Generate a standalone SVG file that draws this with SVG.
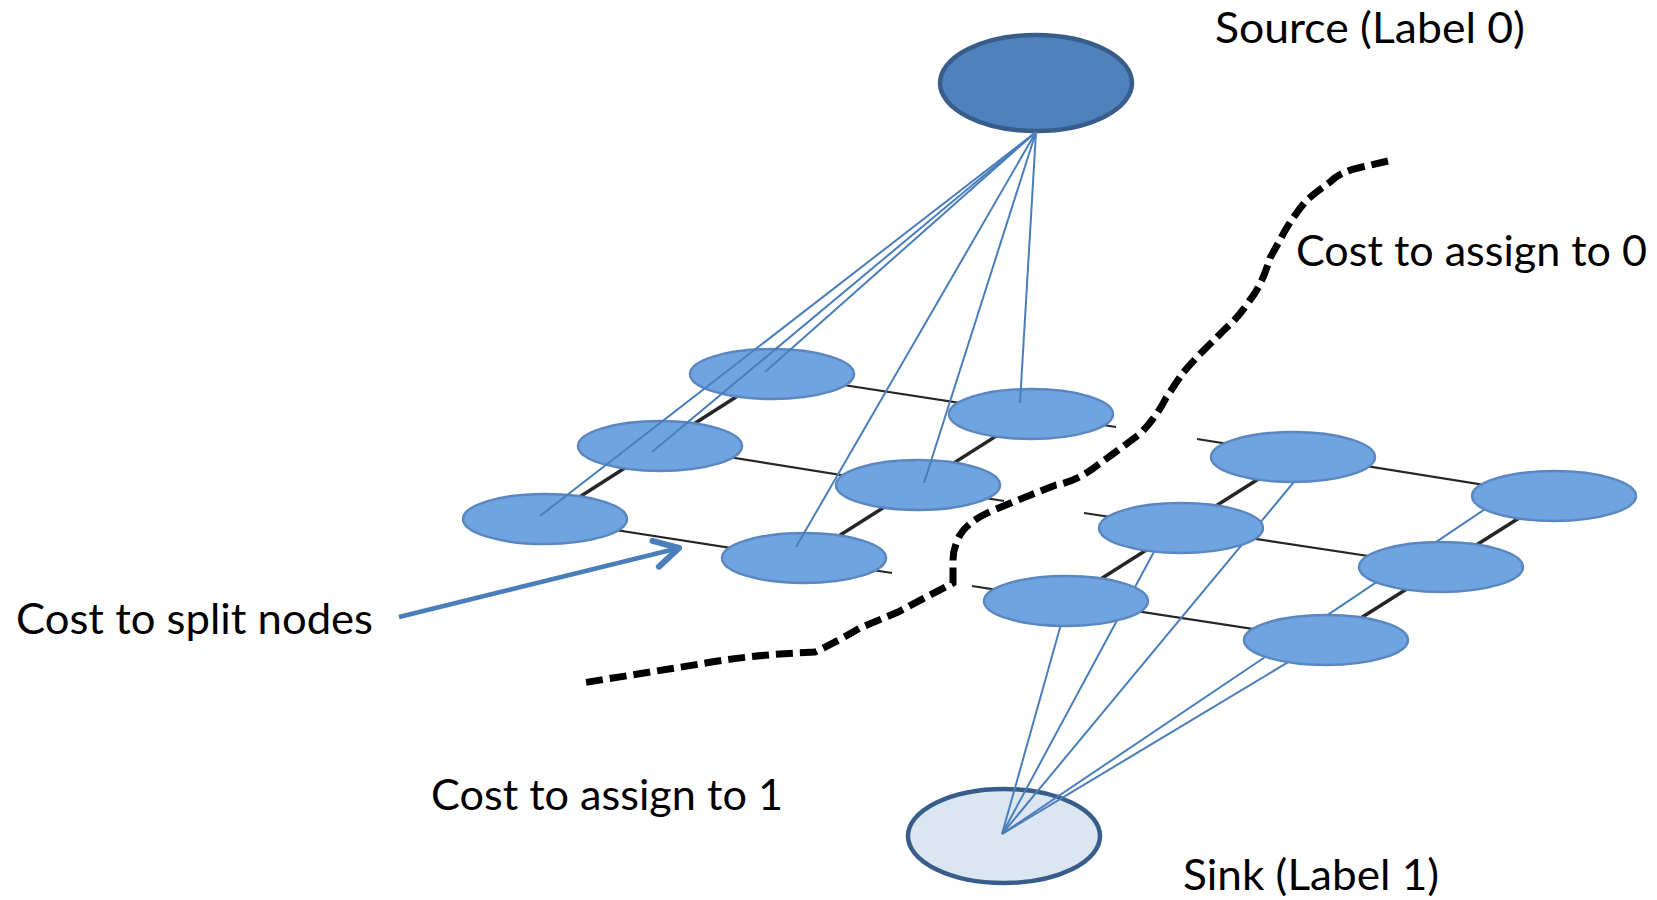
<svg xmlns="http://www.w3.org/2000/svg" width="1657" height="900" viewBox="0 0 1657 900">
<style>
.row{stroke:#262626;stroke-width:2.2;fill:none}
.col{stroke:#262626;stroke-width:3.5;fill:none}
.blue{stroke:#4a7ebb;stroke-width:2;fill:none}
.node{fill:#6fa4e0;stroke:#5a87c0;stroke-width:2.5}
.lbl{font-family:Lato,"Liberation Sans",sans-serif;font-size:42px;fill:#000}
</style>
<defs>
<marker id="chev" markerUnits="userSpaceOnUse" markerWidth="40" markerHeight="40" viewBox="-25 -15 30 30" refX="0" refY="0" orient="auto">
<path d="M-18,-10 L0,0 L-18,10" fill="none" stroke="#4a7ebb" stroke-width="4.5" stroke-linecap="round" stroke-linejoin="round"/>
</marker>
</defs>
<rect width="1657" height="900" fill="#fff"/>
<g id="connectors-grid">
<line class="row" x1="772" y1="374" x2="1116" y2="427"/>
<line class="row" x1="1197" y1="439" x2="1554" y2="496"/>
<line class="row" x1="660" y1="446" x2="1004" y2="501"/>
<line class="row" x1="1084" y1="513" x2="1441" y2="567"/>
<line class="row" x1="545" y1="519" x2="892" y2="573"/>
<line class="row" x1="972" y1="586" x2="1326" y2="640"/>
<line class="col" x1="545" y1="519" x2="772" y2="374"/>
<line class="col" x1="804" y1="558" x2="1031" y2="414"/>
<line class="col" x1="1066" y1="601" x2="1293" y2="457"/>
<line class="col" x1="1326" y1="640" x2="1554" y2="496"/>
</g>
<g id="sink">
<ellipse cx="1004" cy="836" rx="96" ry="47" fill="#dce6f2" stroke="#385d8a" stroke-width="4.5"/>
</g>
<g id="connectors-sink">
<line class="blue" x1="1002" y1="834" x2="1065" y2="610"/>
<line class="blue" x1="1002" y1="834" x2="1163" y2="535"/>
<line class="blue" x1="1002" y1="834" x2="1308" y2="465"/>
<line class="blue" x1="1002" y1="834" x2="1330" y2="637"/>
<line class="blue" x1="1002" y1="834" x2="1500" y2="499"/>
</g>
<g id="n-a"><ellipse class="node" cx="772" cy="374" rx="82" ry="25"/></g>
<g id="n-b"><ellipse class="node" cx="1031" cy="414" rx="82" ry="25"/></g>
<g id="n-c"><ellipse class="node" cx="660" cy="446" rx="82" ry="25"/></g>
<g id="n-d"><ellipse class="node" cx="918" cy="485" rx="82" ry="25"/></g>
<g id="n-e"><ellipse class="node" cx="545" cy="519" rx="82" ry="25"/></g>
<g id="n-f"><ellipse class="node" cx="804" cy="558" rx="82" ry="25"/></g>
<g id="n-g"><ellipse class="node" cx="1293" cy="457" rx="82" ry="25"/></g>
<g id="n-h"><ellipse class="node" cx="1554" cy="496" rx="82" ry="25"/></g>
<g id="n-i"><ellipse class="node" cx="1181" cy="528" rx="82" ry="25"/></g>
<g id="n-j"><ellipse class="node" cx="1441" cy="567" rx="82" ry="25"/></g>
<g id="n-k"><ellipse class="node" cx="1066" cy="601" rx="82" ry="25"/></g>
<g id="n-l"><ellipse class="node" cx="1326" cy="640" rx="82" ry="25"/></g>
<g id="source">
<ellipse cx="1036" cy="83" rx="96" ry="48" fill="#4f81bd" stroke="#385d8a" stroke-width="4.5"/>
</g>
<g id="connectors-source">
<line class="blue" x1="1036" y1="132" x2="540" y2="516"/>
<line class="blue" x1="1036" y1="132" x2="652" y2="452"/>
<line class="blue" x1="1036" y1="132" x2="765" y2="372"/>
<line class="blue" x1="1036" y1="132" x2="796" y2="547"/>
<line class="blue" x1="1036" y1="132" x2="924" y2="483"/>
<line class="blue" x1="1036" y1="132" x2="1020" y2="403"/>
</g>
<g id="cut">
<path d="M1388,161 L1358,168 Q1340,172 1330,182 Q1312,195 1306,201 Q1290,220 1280,240 L1270,258 Q1262,285 1250,300 Q1238,318 1226,328 L1205,349 Q1190,364 1182,374 L1166,398 Q1157,416 1141,433 Q1120,449 1099,464 Q1078,481 1056,485 Q1030,495 994,510 Q968,521 960,535 Q953,548 953,560 L953,583 Q940,590 930,595 L898,612 L860,628 Q840,640 815,652 L780,654 Q740,657 700,664 L582,683" fill="none" stroke="#000" stroke-width="7" stroke-dasharray="17 7"/>
</g>
<g id="connector-split">
<line x1="399" y1="617" x2="679" y2="548" stroke="#4a7ebb" stroke-width="4.5" marker-end="url(#chev)"/>
</g>
<g id="labels">
<text class="lbl" x="1215" y="43" textLength="310" lengthAdjust="spacingAndGlyphs">Source (Label 0)</text>
<text class="lbl" x="1296" y="266" textLength="351" lengthAdjust="spacingAndGlyphs">Cost to assign to 0</text>
<text class="lbl" x="16" y="634" textLength="357" lengthAdjust="spacingAndGlyphs">Cost to split nodes</text>
<text class="lbl" x="431" y="810" textLength="352" lengthAdjust="spacingAndGlyphs">Cost to assign to 1</text>
<text class="lbl" x="1183" y="890" textLength="256" lengthAdjust="spacingAndGlyphs">Sink (Label 1)</text>
</g>
</svg>
